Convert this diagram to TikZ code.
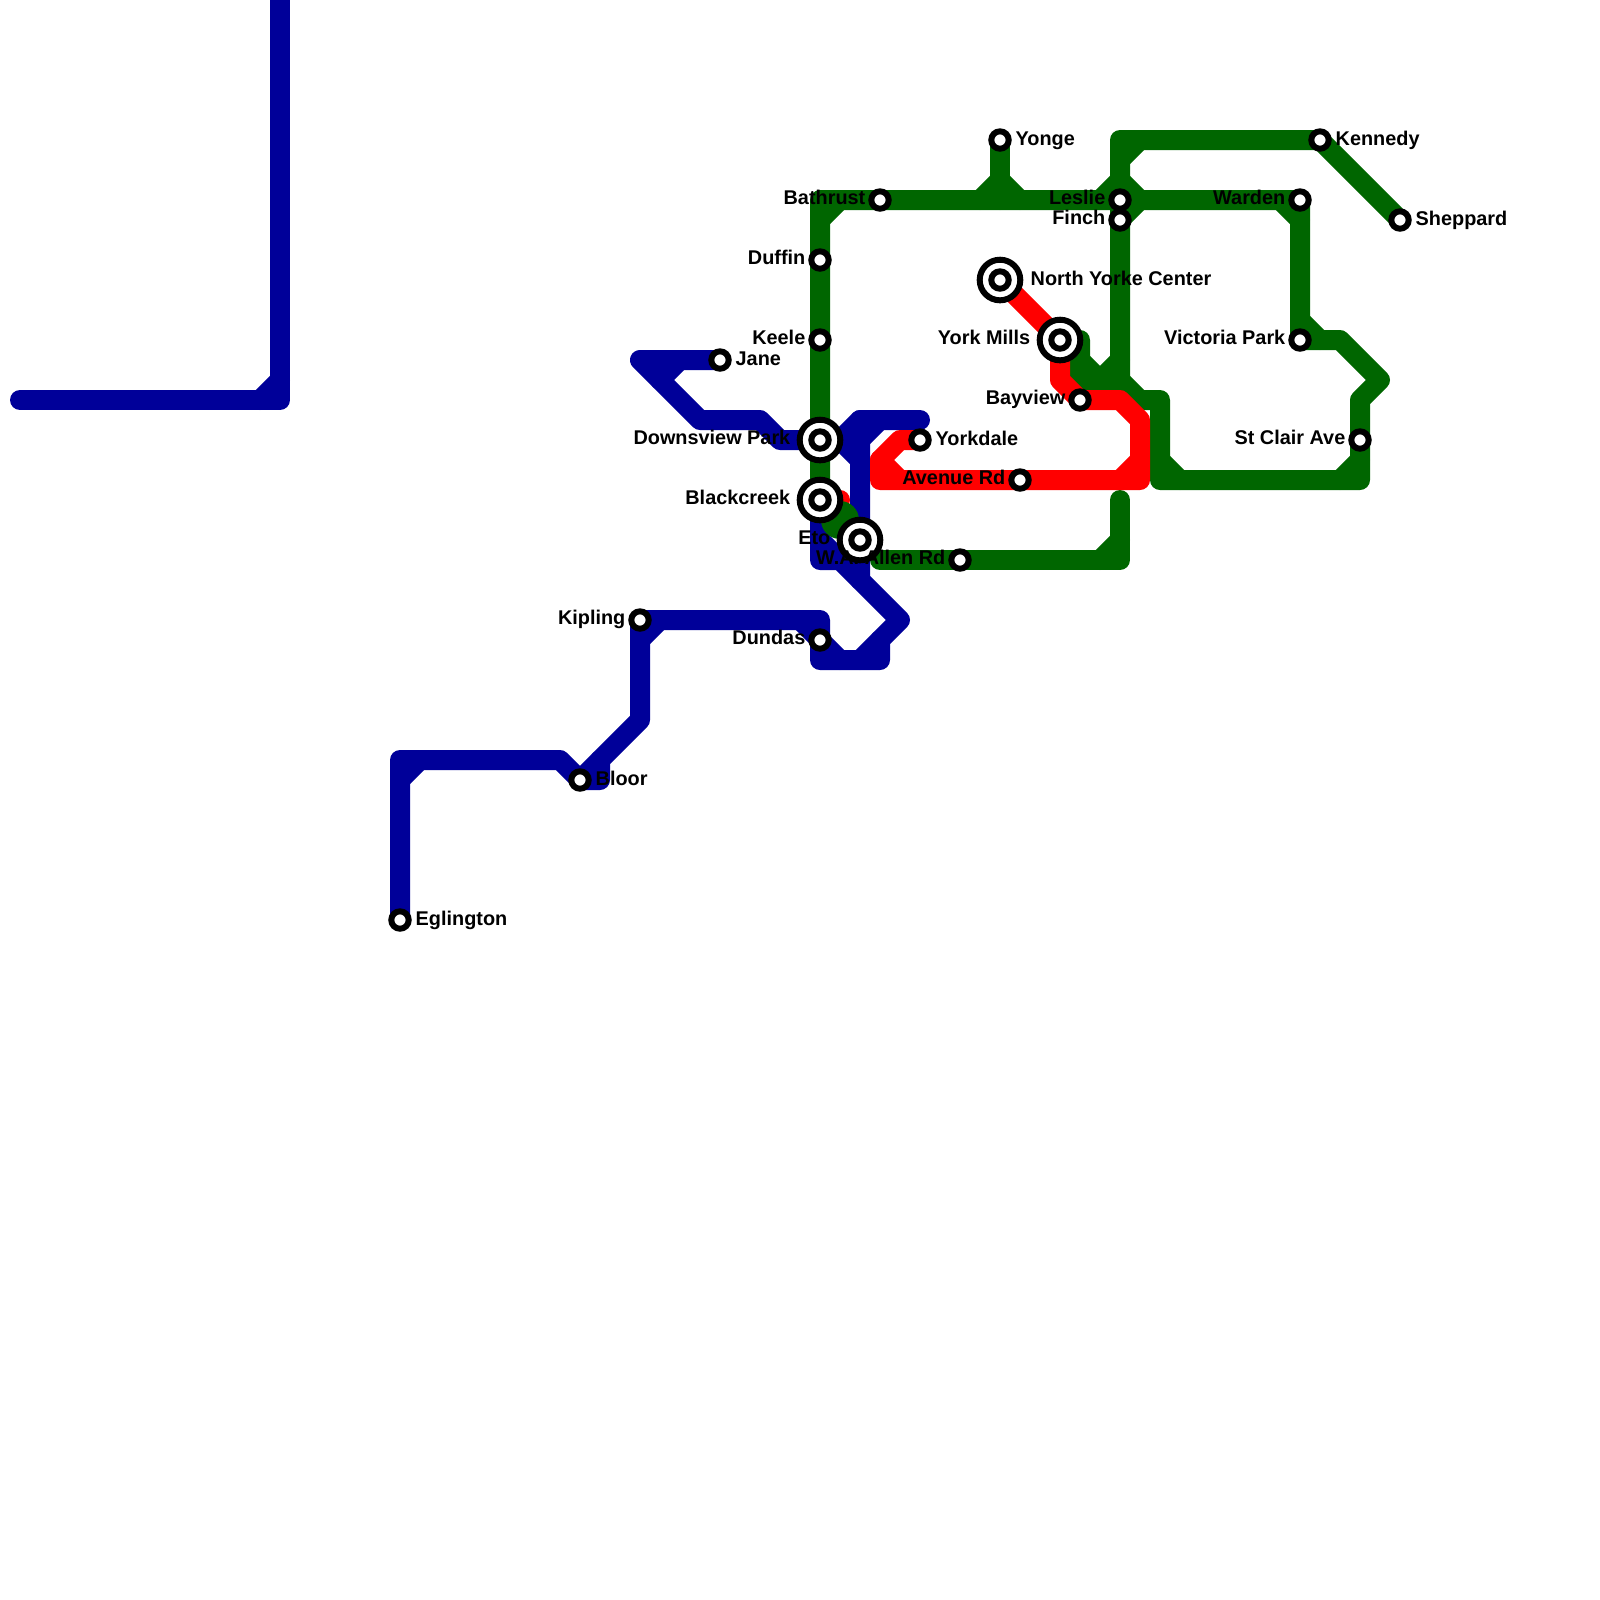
\documentclass[tikz,border=0pt]{standalone}
\usepackage{fontspec}
\setmainfont{Liberation Sans}
\usepackage{xcolor}
\usepackage{tikz}
\usetikzlibrary{backgrounds}
\definecolor{lineBlue}{RGB}{0,0,153}
\definecolor{lineGreen}{RGB}{0,102,0}
\definecolor{lineRed}{RGB}{255,0,0}

\begin{document}
\begin{tikzpicture}[
  x=0.2cm, y=-0.2cm,
  track/.style={line width=0.2cm, line cap=round, line join=round},
  blue track/.style={track, draw=lineBlue},
  green track/.style={track, draw=lineGreen},
  red track/.style={track, draw=lineRed},
  station/.style={circle, draw=black, fill=white, line width=0.06cm, minimum size=0.174cm, inner sep=0pt},
  hub/.style={circle, draw=black, fill=white, line width=0.06cm, minimum size=0.406cm, inner sep=0pt},
  lbl/.style={inner sep=0pt, font=\fontsize{5.65pt}{6pt}\selectfont\bfseries, text=black},
  lbl right/.style={lbl, anchor=base west},
  lbl left/.style={lbl, anchor=base east, xshift=0.01cm, yshift=0.01cm}
]
  \useasboundingbox (0,0) rectangle (80,80);

  % Stations
  \node[station] (eglington) at (20,46) {};
  \node[station] (bloor) at (29,39) {};
  \node[station] (kipling) at (32,31) {};
  \node[station] (dundas) at (41,32) {};
  \node[station] (jane) at (36,18) {};
  \node[station] (yorkdale) at (46,22) {};
  \node[station] (avenue) at (51,24) {};
  \node[station] (allen) at (48,28) {};
  \node[station] (bathurst) at (44,10) {};
  \node[station] (duffin) at (41,13) {};
  \node[station] (keele) at (41,17) {};
  \node[station] (yonge) at (50,7) {};
  \node[station] (bayview) at (54,20) {};
  \node[station] (leslie) at (56,10) {};
  \node[station] (finch) at (56,11) {};
  \node[station] (warden) at (65,10) {};
  \node[station] (kennedy) at (66,7) {};
  \node[station] (sheppard) at (70,11) {};
  \node[station] (victoria) at (65,17) {};
  \node[station] (stclair) at (68,22) {};

  % Interchanges
  \node[hub] (downsview) at (41,22) {};
  \node[station] (downsview core) at (downsview) {};
  \node[hub] (blackcreek) at (41,25) {};
  \node[station] (blackcreek core) at (blackcreek) {};
  \node[hub] (eto) at (43,27) {};
  \node[station] (eto core) at (eto) {};
  \node[hub] (yorke) at (50,14) {};
  \node[station] (yorke core) at (yorke) {};
  \node[hub] (mills) at (53,17) {};
  \node[station] (mills core) at (mills) {};

  % Labels
  \node[lbl right] (yonge txt) at (50.75,7.25) {Yonge};
  \node[lbl right] (kennedy txt) at (66.75,7.25) {Kennedy};
  \node[lbl right] (sheppard txt) at (70.75,11.25) {Sheppard};
  \node[lbl right] (jane txt) at (36.75,18.25) {Jane};
  \node[lbl right] (yorkdale txt) at (46.75,22.25) {Yorkdale};
  \node[lbl right] (eglington txt) at (20.75,46.25) {Eglington};
  \node[lbl right] (bloor txt) at (29.75,39.25) {Bloor};
  \node[lbl right] (yorke txt) at (51.5,14.25) {North Yorke Center};
  \node[lbl left] (bathurst txt) at (43.25,10.25) {Bathrust};
  \node[lbl left] (duffin txt) at (40.25,13.25) {Duffin};
  \node[lbl left] (keele txt) at (40.25,17.25) {Keele};
  \node[lbl left] (dundas txt) at (40.25,32.25) {Dundas};
  \node[lbl left] (kipling txt) at (31.25,31.25) {Kipling};
  \node[lbl left] (downsview txt) at (39.5,22.25) {Downsview Park};
  \node[lbl left] (blackcreek txt) at (39.5,25.25) {Blackcreek};
  \node[lbl left] (eto txt) at (41.5,27.25) {Eto};
  \node[lbl left] (allen txt) at (47.25,28.25) {W.A. Allen Rd};
  \node[lbl left] (avenue txt) at (50.25,24.25) {Avenue Rd};
  \node[lbl left] (mills txt) at (51.5,17.25) {York Mills};
  \node[lbl left] (bayview txt) at (53.25,20.25) {Bayview};
  \node[lbl left] (leslie txt) at (55.25,10.25) {Leslie};
  \node[lbl left] (finch txt) at (55.25,11.25) {Finch};
  \node[lbl left] (warden txt) at (64.25,10.25) {Warden};
  \node[lbl left] (victoria txt) at (64.25,17.25) {Victoria Park};
  \node[lbl left] (stclair txt) at (67.25,22.25) {St Clair Ave};

  \begin{scope}[on background layer]
    % Green line
    \draw[green track] (blackcreek.center) -- (downsview.center) -- (keele.center) -- (duffin.center) -- (41,10)
      -- (bathurst.center) -- (leslie.center) -- (warden.center) -- (victoria.center) -- (67,17) -- (69,19)
      -- (68,20) -- (stclair.center) -- (68,24) -- (58,24) -- (58,20) -- (57,20) -- (56,19) -- (54,19) -- (54,17) -- (mills.center);
    \draw[green track] (yonge.center) -- (50,10);
    \draw[green track] (sheppard.center) -- (kennedy.center) -- (56,7) -- (leslie.center) -- (finch.center) -- (56,19);
    \draw[green track] (56,25) -- (56,28) -- (allen.center) -- (44,28);
    \draw[green track] (42,10) -- (41,11) (49,10) -- (50,9) -- (51,10) (55,10) -- (56,9) -- (57,10) -- (56,11)
      (57,7) -- (56,8) (64,10) -- (65,11) (65,16) -- (66,17) (68,23) -- (67,24) (58,23) -- (59,24)
      (54,18) -- (55,19) -- (56,18) (56,27) -- (55,28);

    % Blue line
    \draw[blue track] (14,0) -- (14,20) -- (1,20);
    \draw[blue track] (eglington.center) -- (20,38) -- (28,38) -- (bloor.center) -- (30,39) -- (30,38) -- (32,36)
      -- (kipling.center) -- (41,31) -- (dundas.center) -- (41,33) -- (44,33) -- (44,32) -- (45,31) -- (43,29)
      -- (eto.center) -- (43,21) -- (46,21);
    \draw[blue track] (blackcreek.center) -- (41,28) -- (42,28) -- (43,29);
    \draw[blue track] (43,21) -- (42,22) -- (43,23);
    \draw[blue track] (42,22) -- (downsview.center) -- (39,22) -- (38,21) -- (35,21) -- (32,18) -- (jane.center);
    \draw[blue track] (13,20) -- (14,19) (21,38) -- (20,39) (33,31) -- (32,32) (40,31) -- (41,32) -- (42,33)
      (43,33) -- (44,32) (34,18) -- (33,19) (44,21) -- (43,22) (41,27) -- (42,28) (bloor.center) -- (30,38);

    % Red line
    \draw[red track] (yorke.center) -- (mills.center) -- (53,19) -- (bayview.center) -- (56,20) -- (57,21) -- (57,24)
      -- (avenue.center) -- (44,24) -- (44,23) -- (45,22) -- (yorkdale.center);
    \draw[red track] (57,23) -- (56,24) (44,23) -- (45,24);
    \draw[red track] (blackcreek.center) -- (42,25);

    % Green dot by Eto
    \fill[lineGreen] (42,26) circle (0.95);
  \end{scope}
\end{tikzpicture}
\end{document}
